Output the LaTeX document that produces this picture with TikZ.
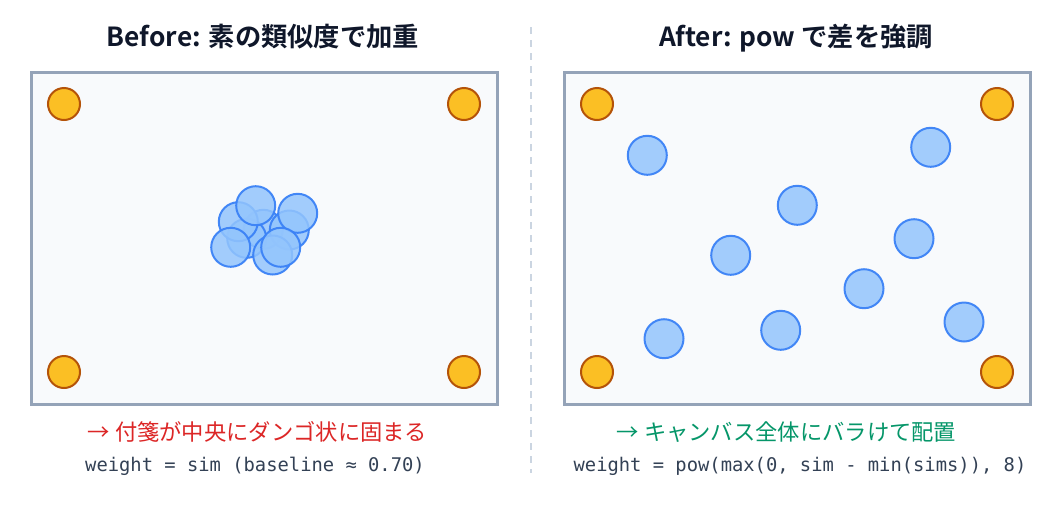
\documentclass[tikz,border=0pt]{standalone}
\usepackage{fontspec}
\newfontfamily\jp{Noto Sans CJK JP}[BoldFont={Noto Sans CJK JP Bold}]
\newfontfamily\mono{DejaVu Sans Mono}
\definecolor{bg}{HTML}{FFFFFF}
\definecolor{panelfill}{HTML}{F8FAFC}
\definecolor{panelline}{HTML}{94A3B8}
\definecolor{divider}{HTML}{CBD5E1}
\definecolor{titlecol}{HTML}{0F172A}
\definecolor{badcol}{HTML}{DC2626}
\definecolor{goodcol}{HTML}{059669}
\definecolor{codecol}{HTML}{334155}
\definecolor{anchorfill}{HTML}{FBBF24}
\definecolor{anchorline}{HTML}{B45309}
\definecolor{notefill}{HTML}{93C5FD}
\definecolor{noteline}{HTML}{3B82F6}
\tikzset{
  panel/.style={draw=panelline, fill=panelfill, line width=3pt},
  anchordot/.style={circle, draw=anchorline, fill=anchorfill, line width=2pt, minimum size=32pt, inner sep=0pt},
  notedot/.style={circle, draw=noteline, fill=notefill, fill opacity=0.85, draw opacity=0.95, line width=2pt, minimum size=39pt, inner sep=0pt},
  titletext/.style={font=\jp\bfseries\fontsize{26.3}{31}\selectfont, text=titlecol, anchor=base, inner sep=0pt},
  resulttext/.style={font=\jp\fontsize{22.3}{27}\selectfont, anchor=base, inner sep=0pt},
  codetext/.style={font=\mono\fontsize{18.8}{22}\selectfont, text=codecol, anchor=base, inner sep=0pt},
}
\begin{document}
\begin{tikzpicture}[x=1pt,y=-1pt]
\useasboundingbox (0,0) rectangle (1060,504);
\fill[bg] (0,0) rectangle (1060,504);
% divider
\coordinate (dtop) at (531,27);
\coordinate (dbot) at (531,473);
\draw[divider, line width=2pt, dash pattern=on 7pt off 6pt] (dtop) -- (dbot);
% panels
\draw[panel] (31.5,72.5) rectangle (497,404.5);
\draw[panel] (564,72.5) rectangle (1030,404.5);
% titles
\node[titletext] (t1) at (263,46) {Before: 素の類似度で加重};
\node[titletext] (t2) at (796,46) {After: pow で差を強調};
% anchors left
\node[anchordot] (la1) at (64,104) {};
\node[anchordot] (la2) at (464,104) {};
\node[anchordot] (la3) at (64,372) {};
\node[anchordot] (la4) at (464,372) {};
% anchors right
\node[anchordot] (ra1) at (597,104) {};
\node[anchordot] (ra2) at (997,104) {};
\node[anchordot] (ra3) at (597,372) {};
\node[anchordot] (ra4) at (997,372) {};
% left cluster
\node[notedot] (l4) at (263.3,229.3) {};
\node[notedot] (l6) at (246.7,238.3) {};
\node[notedot] (l5) at (289.3,230) {};
\node[notedot] (l3) at (238.3,221.7) {};
\node[notedot] (l1) at (255.7,205.7) {};
\node[notedot] (l2) at (297.7,213.3) {};
\node[notedot] (l7) at (230.7,247.3) {};
\node[notedot] (l8) at (272.7,255) {};
\node[notedot] (l9) at (280.7,247.3) {};
% right spread
\node[notedot] (r1) at (647.3,155.3) {};
\node[notedot] (r2) at (930.7,147.3) {};
\node[notedot] (r3) at (797.3,205.3) {};
\node[notedot] (r4) at (914,238.7) {};
\node[notedot] (r5) at (730.7,255.3) {};
\node[notedot] (r6) at (864,288.7) {};
\node[notedot] (r7) at (964,322) {};
\node[notedot] (r8) at (780.7,330.3) {};
\node[notedot] (r9) at (664,338.7) {};
% captions
\node[resulttext, text=badcol] (c1) at (257.5,440) {→ 付箋が中央にダンゴ状に固まる};
\node[resulttext, text=goodcol] (c2) at (786.5,440) {→ キャンバス全体にバラけて配置};
\node[codetext] (k1) at (255,471) {weight = sim (baseline ≈ 0.70)};
\node[codetext] (k2) at (800,471) {weight = pow(max(0, sim - min(sims)), 8)};
\end{tikzpicture}
\end{document}
